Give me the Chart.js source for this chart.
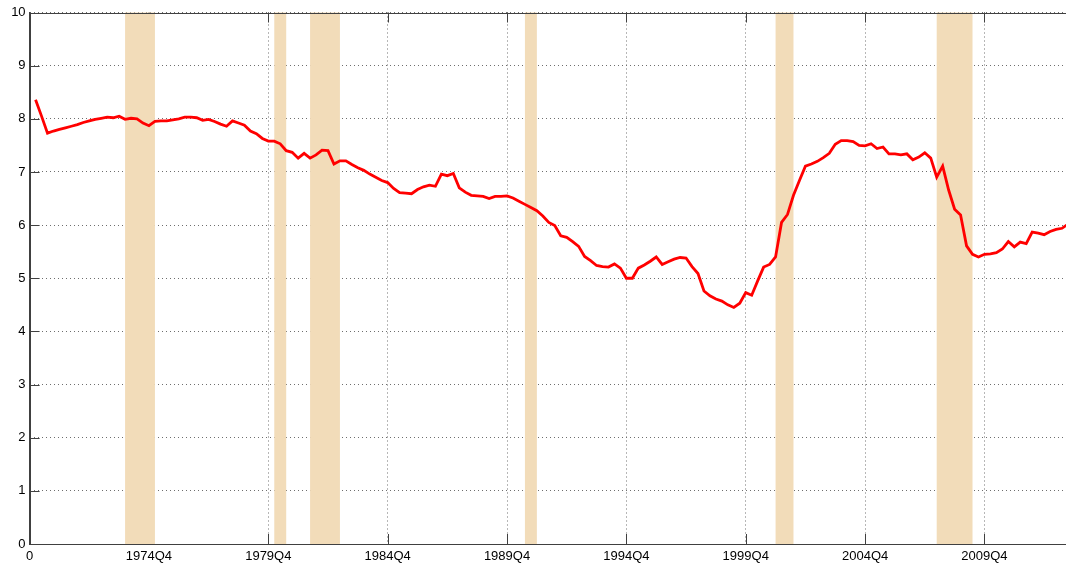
<!DOCTYPE html>
<html>
<head>
<meta charset="utf-8">
<script src="https://cdn.jsdelivr.net/npm/chart.js@4"></script>
<style>
  html, body { margin: 0; padding: 0; background: #fff; overflow: hidden; }
  #wrap { width: 1068px; height: 565px; }
</style>
</head>
<body>
<div id="wrap"><canvas id="chart" width="1068" height="565"></canvas></div>
<script>
// quarters are counted from 1969Q4 = 0, so the series starts at 1970Q1 = 1
const firstQuarter = 1;
const values = [
  8.36, 8.05, 7.73, 7.77, 7.80, 7.83, 7.86, 7.89, 7.93, 7.96,
  7.99, 8.01, 8.03, 8.02, 8.05, 7.99, 8.01, 8.00, 7.92, 7.87,
  7.95, 7.96, 7.96, 7.98, 8.00, 8.03, 8.03, 8.02, 7.97, 7.99,
  7.95, 7.90, 7.86, 7.96, 7.92, 7.88, 7.77, 7.72, 7.63, 7.58,
  7.58, 7.53, 7.40, 7.37, 7.26, 7.35, 7.26, 7.32, 7.41, 7.40,
  7.15, 7.21, 7.21, 7.14, 7.08, 7.03, 6.96, 6.90, 6.84, 6.80,
  6.69, 6.61, 6.60, 6.59, 6.67, 6.72, 6.75, 6.73, 6.96, 6.93,
  6.97, 6.70, 6.62, 6.56, 6.55, 6.54, 6.50, 6.54, 6.54, 6.55,
  6.51, 6.45, 6.39, 6.33, 6.27, 6.17, 6.05, 5.99, 5.80, 5.77,
  5.69, 5.60, 5.41, 5.33, 5.24, 5.22, 5.21, 5.27, 5.19, 5.00,
  5.00, 5.19, 5.25, 5.32, 5.40, 5.26, 5.31, 5.36, 5.39, 5.38,
  5.22, 5.09, 4.76, 4.67, 4.61, 4.57, 4.50, 4.45, 4.53, 4.73,
  4.68, 4.95, 5.21, 5.26, 5.40, 6.05, 6.20, 6.56, 6.84, 7.11,
  7.15, 7.20, 7.27, 7.35, 7.52, 7.59, 7.59, 7.57, 7.50, 7.49,
  7.53, 7.44, 7.47, 7.34, 7.34, 7.32, 7.34, 7.23, 7.28, 7.36,
  7.26, 6.90, 7.11, 6.66, 6.30, 6.19, 5.61, 5.45, 5.40, 5.45,
  5.46, 5.48, 5.55, 5.69, 5.59, 5.68, 5.65, 5.87, 5.85, 5.82,
  5.88, 5.92, 5.94, 6.02
];
const tickValues = [0, 20, 40, 60, 80, 100, 120, 140, 160];
const tickLabels = ["0", "1974Q4", "1979Q4", "1984Q4", "1989Q4", "1994Q4", "1999Q4", "2004Q4", "2009Q4"];
const yTicks = [0, 1, 2, 3, 4, 5, 6, 7, 8, 9, 10];
// recession shading, start and end quarter
const recessions = [[16, 21], [41, 43], [47, 52], [83, 85], [125, 128], [152, 158]];

const points = values.map((v, i) => ({ x: firstQuarter + i, y: v }));

const axisColor = "#404040";
const font = { family: "'Liberation Sans', Arial, sans-serif", size: 13 };

// recession bars + matlab style box and inward ticks
const shading = {
  id: "shading",
  beforeDatasetsDraw(chart) {
    const { ctx, chartArea: a, scales: { x, y } } = chart;
    ctx.save();
    ctx.strokeStyle = axisColor;
    ctx.lineWidth = 1;
    ctx.beginPath();
    tickValues.forEach((t) => {
      const px = Math.round(x.getPixelForValue(t)) + 0.5;
      ctx.moveTo(px, a.bottom); ctx.lineTo(px, a.bottom - 10);
      ctx.moveTo(px, a.top); ctx.lineTo(px, a.top + 10);
    });
    yTicks.forEach((t) => {
      const py = Math.round(y.getPixelForValue(t)) + 0.5;
      ctx.moveTo(a.left, py); ctx.lineTo(a.left + 10, py);
    });
    ctx.stroke();

    ctx.fillStyle = "#f2dcb9";
    recessions.forEach(([s, e]) => {
      const x0 = x.getPixelForValue(s), x1 = x.getPixelForValue(e);
      ctx.fillRect(x0, a.top, x1 - x0, a.bottom - a.top);
    });

    ctx.strokeStyle = axisColor;
    ctx.beginPath();
    const top = Math.round(a.top) + 0.5, bot = Math.round(a.bottom) + 0.5, left = Math.round(a.left) + 0.5;
    ctx.moveTo(left, top); ctx.lineTo(a.right, top);
    ctx.moveTo(left, bot); ctx.lineTo(a.right, bot);
    ctx.moveTo(left, top); ctx.lineTo(left, bot);
    ctx.stroke();
    ctx.restore();
  }
};

new Chart(document.getElementById("chart").getContext("2d"), {
  type: "line",
  data: {
    datasets: [{
      data: points,
      borderColor: "#ff0000",
      borderWidth: 2.8,
      pointRadius: 0,
      tension: 0,
      fill: false,
    }],
  },
  options: {
    responsive: false,
    animation: false,
    layout: { padding: { top: 12.5, left: 0, right: 0, bottom: 0 } },
    plugins: { legend: { display: false }, tooltip: { enabled: false } },
    scales: {
      x: {
        type: "linear",
        min: 0,
        max: 174,
        afterBuildTicks: (s) => { s.ticks = tickValues.map((v) => ({ value: v })); },
        afterFit: (s) => { s.height = 21; },
        ticks: {
          color: "#000",
          font: font,
          padding: 5,
          maxRotation: 0,
          autoSkip: false,
          callback: (v) => tickLabels[tickValues.indexOf(v)],
        },
        grid: { color: "#6e6e6e", lineWidth: 1, drawTicks: false },
        border: { display: true, color: axisColor, dash: [1, 3] },
      },
      y: {
        min: 0,
        max: 10,
        afterBuildTicks: (s) => { s.ticks = yTicks.map((v) => ({ value: v })); },
        afterFit: (s) => { s.width = 29.6; },
        ticks: { color: "#000", font: font, padding: 4 },
        grid: { color: "#6e6e6e", lineWidth: 1, drawTicks: false },
        border: { display: true, color: axisColor, dash: [1, 3] },
      },
    },
  },
  plugins: [shading],
});
</script>
</body>
</html>
